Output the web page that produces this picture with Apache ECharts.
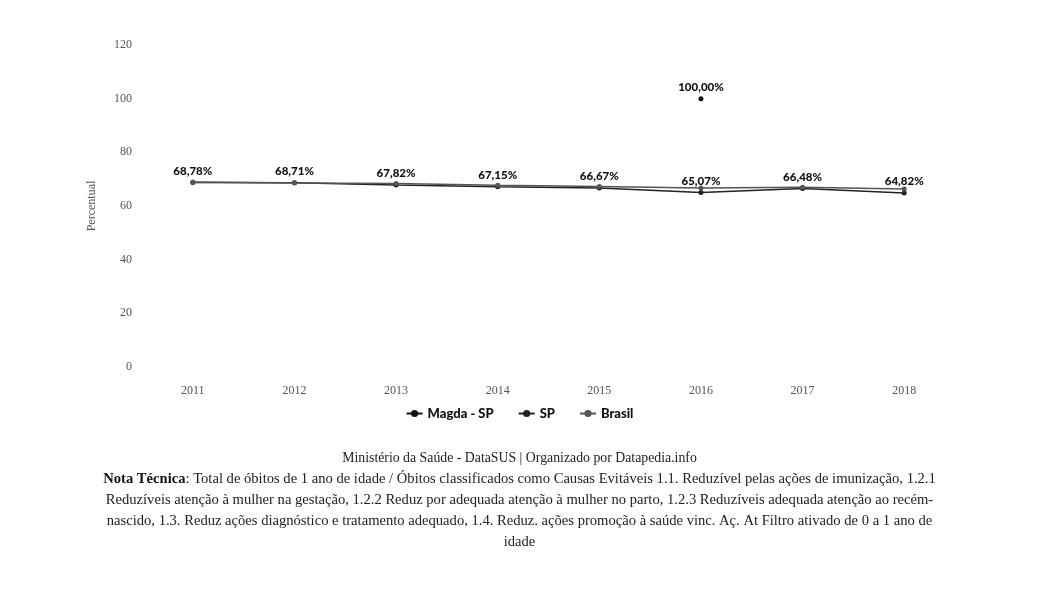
<!DOCTYPE html>
<html>
<head>
<meta charset="utf-8">
<script src="https://cdn.jsdelivr.net/npm/echarts@6/dist/echarts.min.js"></script>
<style>
html,body{margin:0;padding:0;background:#fff;}
#chart{width:1039px;height:595px;}
</style>
</head>
<body>
<div id="chart"></div>
<script>
const categories = ['2011','2012','2013','2014','2015','2016','2017','2018'];
const magdaSP = [null, null, null, null, null, 100.00, null, null];
const sp = [68.78, 68.71, 67.82, 67.15, 66.67, 65.07, 66.48, 64.82];
const brasil = [68.9, 68.6, 68.4, 67.7, 67.3, 66.7, 67.0, 66.3];
const yTicks = { min: 0, max: 120, interval: 20 };
const sourceText = 'Ministério da Saúde - DataSUS | Organizado por Datapedia.info';
const notaLabel = 'Nota Técnica';
const notaLines = [
  ': Total de óbitos de 1 ano de idade / Óbitos classificados como Causas Evitáveis 1.1. Reduzível pelas ações de imunização, 1.2.1',
  'Reduzíveis atenção à mulher na gestação, 1.2.2 Reduz por adequada atenção à mulher no parto, 1.2.3 Reduzíveis adequada atenção ao recém-',
  'nascido, 1.3. Reduz ações diagnóstico e tratamento adequado, 1.4. Reduz. ações promoção à saúde vinc. Aç. At Filtro ativado de 0 a 1 ano de',
  'idade'
];

const fmt = v => v.toFixed(2).replace('.', ',') + '%';
const chart = echarts.init(document.getElementById('chart'));
const labelStyle = {
  show: true, position: 'top', distance: 3,
  fontFamily: 'Lato', fontWeight: 900, fontSize: 11.5, color: '#111',
  formatter: p => fmt(p.value)
};
const noteGraphics = notaLines.map((line, i) => ({
  type: 'text', left: 'center', top: 472 + i * 21,
  style: {
    text: (i === 0 ? '{b|' + notaLabel + '}' : '') + line,
    fontFamily: 'Liberation Serif', fontSize: 14.6, fill: '#222',
    rich: { b: { fontFamily: 'Liberation Serif', fontWeight: 'bold', fontSize: 14.6, fill: '#111' } }
  }
}));
chart.setOption({
  animation: false,
  backgroundColor: '#fff',
  grid: { left: 142, right: 84, top: 45, bottom: 228 },
  legend: {
    top: 402, left: 'center', itemGap: 24, itemWidth: 16, itemHeight: 9,
    textStyle: { fontFamily: 'Lato', fontWeight: 900, fontSize: 13, color: '#111' },
    data: ['Magda - SP', 'SP', 'Brasil']
  },
  xAxis: {
    type: 'category', data: categories, boundaryGap: true,
    axisLine: { show: false }, axisTick: { show: false },
    axisLabel: { fontFamily: 'Liberation Serif', fontSize: 12, color: '#555', margin: 18 }
  },
  yAxis: {
    type: 'value', min: yTicks.min, max: yTicks.max, interval: yTicks.interval,
    name: 'Percentual', nameLocation: 'middle', nameGap: 44,
    nameTextStyle: { fontFamily: 'Liberation Serif', fontSize: 12, color: '#555' },
    axisLine: { show: false }, axisTick: { show: false }, splitLine: { show: false },
    axisLabel: { fontFamily: 'Liberation Serif', fontSize: 12, color: '#555', margin: 10 }
  },
  series: [
    { name: 'Magda - SP', type: 'line', data: magdaSP, color: '#111',
      symbol: 'circle', symbolSize: 5, lineStyle: { width: 1.5 }, label: labelStyle },
    { name: 'SP', type: 'line', data: sp, color: '#222',
      symbol: 'circle', symbolSize: 5, lineStyle: { width: 1.5 }, label: labelStyle },
    { name: 'Brasil', type: 'line', data: brasil, color: '#555',
      symbol: 'circle', symbolSize: 5, lineStyle: { width: 1.5 } }
  ],
  graphic: [
    { type: 'text', left: 'center', top: 451,
      style: { text: sourceText, fontFamily: 'Liberation Serif', fontSize: 13.8, fill: '#222' } }
  ].concat(noteGraphics)
});
</script>
</body>
</html>
